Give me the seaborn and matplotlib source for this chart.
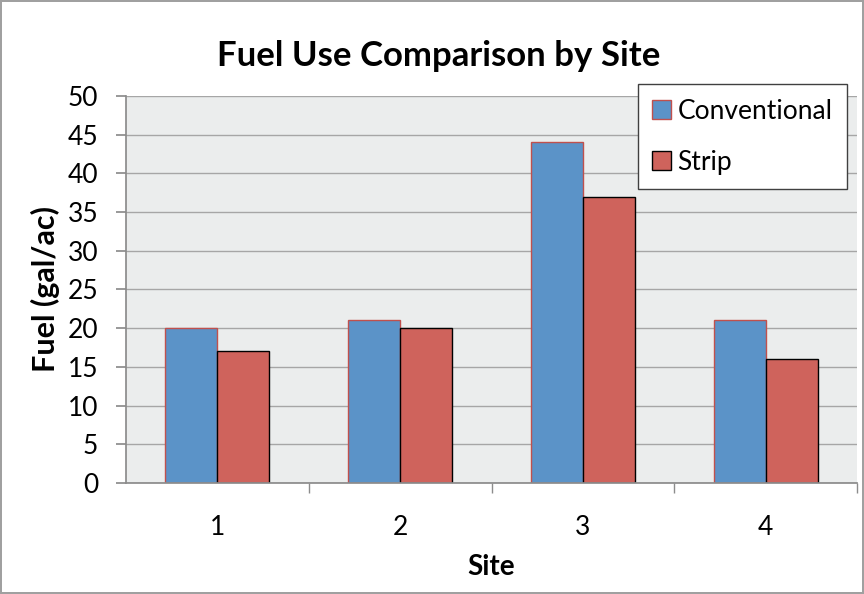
import matplotlib
matplotlib.use("Agg")
import matplotlib.pyplot as plt
import seaborn as sns
import pandas as pd
import numpy as np

sites = ["1", "2", "3", "4"]
conventional = [20, 21, 44, 21]
strip = [17, 20, 37, 16]
series_names = ["Conventional", "Strip"]
y_ticks = list(range(0, 51, 5))

df = pd.DataFrame({
    "Site": sites * 2,
    "Fuel": conventional + strip,
    "Series": [series_names[0]] * len(sites) + [series_names[1]] * len(sites),
})

sns.set_theme(style="white")
plt.rcParams['font.family'] = ['Lato', 'DejaVu Sans']
plt.rcParams['text.color'] = 'black'
plt.rcParams['axes.labelcolor'] = 'black'
plt.rcParams['xtick.color'] = 'black'
plt.rcParams['ytick.color'] = 'black'

fig = plt.figure(figsize=(8.64, 5.94), dpi=100)
fig.patch.set_facecolor("white")
fig.patch.set_edgecolor("#a0a0a0")
fig.patch.set_linewidth(1.5)
ax = fig.add_axes([0.1458, 0.1869, 0.8462, 0.6515])
ax.set_facecolor("#ebeded")

palette = {"Conventional": "#5b93c8", "Strip": "#cf635c"}
sns.barplot(data=df, x="Site", y="Fuel", hue="Series", palette=palette,
            width=0.57, gap=0, saturation=1, ax=ax, zorder=3, legend=True)

for i, patch in enumerate(ax.patches[:8]):
    if i < 4:
        patch.set_edgecolor("#c0504d")
        patch.set_linewidth(1.0)
    else:
        patch.set_edgecolor("black")
        patch.set_linewidth(1.0)

ax.set_ylim(0, 50)
ax.set_yticks(y_ticks)
ax.set_xlim(-0.5, 3.5)
ax.yaxis.grid(True, color="#a6a6a6", linewidth=1.0, zorder=0)
ax.set_axisbelow(True)

for s in ["top", "right"]:
    ax.spines[s].set_visible(False)
ax.spines["left"].set_color("#8c8c8c")
ax.spines["bottom"].set_color("#8c8c8c")
ax.spines["left"].set_zorder(4)
ax.spines["bottom"].set_zorder(4)

ax.tick_params(axis="y", which="major", left=True, length=7, color="#8c8c8c",
               labelcolor="black", labelsize=19, pad=13, direction="out")
ax.set_xticks([0, 1, 2, 3])
ax.set_xticklabels(sites)
ax.tick_params(axis="x", which="major", bottom=False, labelsize=19, pad=17,
               labelcolor="black")
ax.set_xticks([0.5, 1.5, 2.5, 3.5], minor=True)
ax.tick_params(axis="x", which="minor", bottom=True, length=7, color="#8c8c8c", direction="out")

ax.set_xlabel("Site", fontsize=20, fontweight="bold", labelpad=10, color="black")
ax.set_ylabel("Fuel (gal/ac)", fontsize=22, fontweight="bold", color="black")
ax.yaxis.set_label_coords(-0.090, 0.5)
fig.text(0.508, 0.905, "Fuel Use Comparison by Site", ha="center", va="center",
         fontsize=25, fontweight="bold", color="black")

handles, labels = ax.get_legend_handles_labels()
for h, c in zip(handles, ["#c0504d", "black"]):
    h.set_edgecolor(c)
leg = ax.legend(handles, labels, loc="upper right", bbox_to_anchor=(0.9863, 1.031),
          fontsize=19, frameon=True, fancybox=False, edgecolor="#404040",
          facecolor="white", framealpha=1, handlelength=0.7, handleheight=0.7,
          handletextpad=0.25, labelspacing=1.0, borderpad=0.55, borderaxespad=0)
leg.get_frame().set_linewidth(1.0)

fig.savefig("out.png", dpi=100, facecolor=fig.get_facecolor(), edgecolor=fig.get_edgecolor())
